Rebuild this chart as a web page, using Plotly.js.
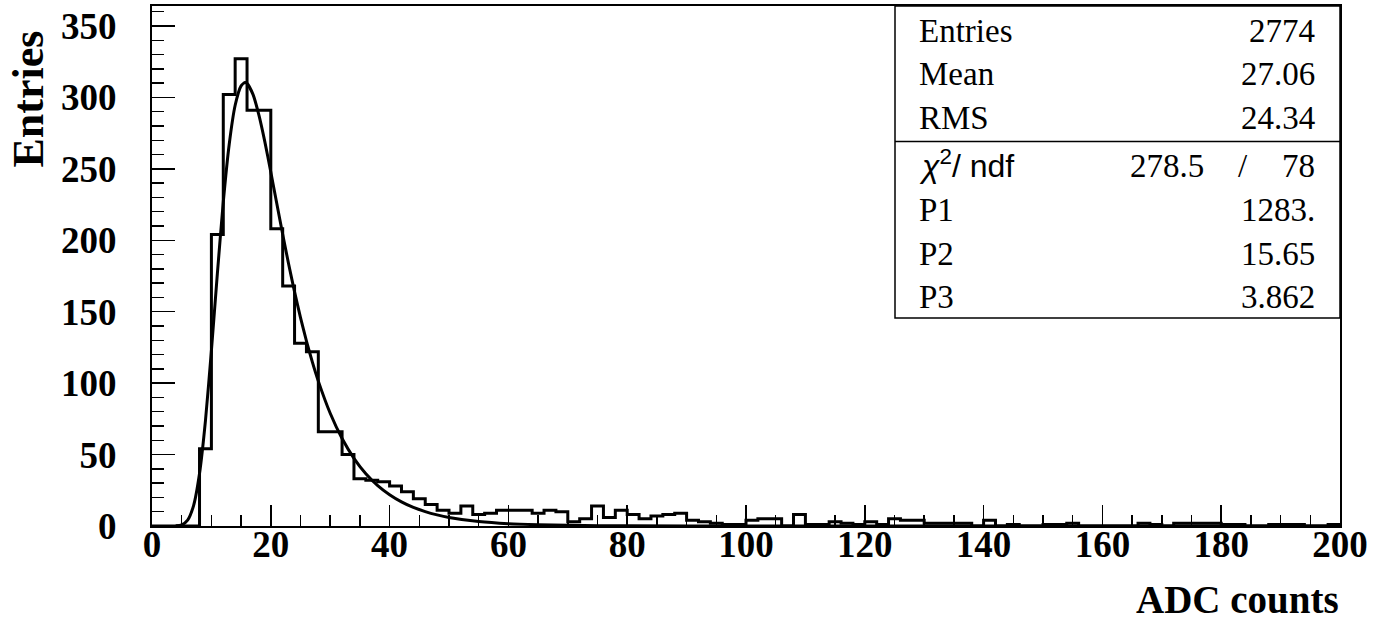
<!DOCTYPE html>
<html>
<head>
<meta charset="utf-8">
<script src="https://cdn.plot.ly/plotly-3.0.1.min.js"></script>
<style>
html,body{margin:0;padding:0;background:#fff;}
#chart{width:1382px;height:621px;}
</style>
</head>
<body>
<div id="chart"></div>
<script>
// Histogram binning (ADC counts), 100 bins of width 2 from 0 to 200
const xMin = 0;
const binWidth = 2;
const binCounts = [
  0, 0, 0, 0, 54, 204, 302, 327, 291, 291,
  208, 168, 128, 122, 66, 66, 50, 33, 32, 31,
  28, 24, 19, 15, 11, 9, 14, 8, 9, 11,
  11, 11, 9, 11, 10, 3, 5, 14, 6, 11,
  8, 5, 7, 8, 9, 4, 3, 2, 1, 1,
  4, 5, 5, 0, 8, 1, 1, 3, 2, 1,
  3, 1, 5, 4, 4, 2, 2, 2, 2, 0,
  4, 0, 1, 0, 0, 1, 1, 2, 0, 0,
  0, 0, 0, 2, 1, 0, 2, 2, 2, 2,
  1, 1, 0, 0, 1, 1, 1, 0, 0, 1
];

// Fit curve
const fitX = [4, 5, 6, 7, 8, 9, 10, 11, 12, 13, 14, 15, 15.65, 16, 17, 18, 19, 20, 21, 22, 23, 24, 25, 26, 27, 28, 30, 32, 34, 36, 38, 40, 42, 44, 46, 48, 50, 55, 60, 65, 70, 80, 100, 150, 200];
const fitY = [0.1, 0.8, 4.1, 14.3, 36.7, 73.8, 122.7, 176.5, 226.8, 267.2, 294.5, 308.1, 310.4, 309.8, 302.1, 287.6, 268.9, 247.8, 225.9, 204.2, 183.4, 163.9, 145.9, 129.5, 114.7, 101.4, 78.9, 61.2, 47.4, 36.6, 28.3, 21.9, 16.9, 13.0, 10.1, 7.8, 6.0, 3.1, 1.6, 0.9, 0.5, 0.1, 0, 0, 0];

// Statistics box
const statLabels = ["Entries", "Mean", "RMS"];
const statValues = ["2774", "27.06", "24.34"];
const chi2Value = "278.5";
const ndfValue = "78";
const parLabels = ["P1", "P2", "P3"];
const parValues = ["1283.", "15.65", "3.862"];

const xTitle = "ADC counts";
const yTitle = "Entries";

// Build step outline from bin edges
const stepX = [];
const stepY = [];
for (let i = 0; i < binCounts.length; i++) {
  stepX.push(xMin + i * binWidth);
  stepY.push(binCounts[i]);
}
stepX.push(xMin + binCounts.length * binWidth);
stepY.push(binCounts[binCounts.length - 1]);

const traces = [
  {
    x: stepX, y: stepY, type: 'scatter', mode: 'lines',
    line: {shape: 'hv', color: '#000', width: 3},
    hoverinfo: 'skip', showlegend: false
  },
  {
    x: fitX, y: fitY, type: 'scatter', mode: 'lines',
    line: {shape: 'spline', smoothing: 0.6, color: '#000', width: 3},
    hoverinfo: 'skip', showlegend: false
  }
];

const serif = 'Liberation Serif, Times New Roman, serif';
const sans = 'Liberation Sans, Arial, sans-serif';

// pixel helpers -> paper coords (plot area x:152..1340, y:6..526)
const L = 152, R = 1340, T = 6, B = 526;
const px = v => (v - L) / (R - L);
const py = v => (B - v) / (B - T);

const annotations = [];
const rowY1 = [31, 74, 117.5];
const rowY2 = [210, 253.5, 297];
const leftX = 917, rightX = 1317;
const statFont = {family: serif, size: 33, color: '#000'};
for (let i = 0; i < statLabels.length; i++) {
  annotations.push({xref:'paper', yref:'paper', x: px(leftX), y: py(rowY1[i]), xanchor:'left', yanchor:'middle', text: statLabels[i], showarrow:false, font: statFont});
  annotations.push({xref:'paper', yref:'paper', x: px(rightX), y: py(rowY1[i]), xanchor:'right', yanchor:'middle', text: statValues[i], showarrow:false, font: statFont});
}
annotations.push({xref:'paper', yref:'paper', x: px(leftX), y: py(164), xanchor:'left', yanchor:'middle', text: '<i>χ</i><sup>2</sup>/ ndf', showarrow:false, font: {family: sans, size: 32, color:'#000'}});
annotations.push({xref:'paper', yref:'paper', x: px(1206), y: py(166), xanchor:'right', yanchor:'middle', text: chi2Value, showarrow:false, font: statFont});
annotations.push({xref:'paper', yref:'paper', x: px(1243), y: py(166), xanchor:'center', yanchor:'middle', text: '/', showarrow:false, font: statFont});
annotations.push({xref:'paper', yref:'paper', x: px(rightX), y: py(166), xanchor:'right', yanchor:'middle', text: ndfValue, showarrow:false, font: statFont});
for (let i = 0; i < parLabels.length; i++) {
  annotations.push({xref:'paper', yref:'paper', x: px(leftX), y: py(rowY2[i]), xanchor:'left', yanchor:'middle', text: parLabels[i], showarrow:false, font: statFont});
  annotations.push({xref:'paper', yref:'paper', x: px(rightX), y: py(rowY2[i]), xanchor:'right', yanchor:'middle', text: parValues[i], showarrow:false, font: statFont});
}
// axis titles (ROOT style, right/top aligned)
annotations.push({xref:'paper', yref:'paper', x: px(1341), y: py(599), xanchor:'right', yanchor:'middle', text: '<b>' + xTitle + '</b>', showarrow:false, font:{family: serif, size: 39, color:'#000'}});
annotations.push({xref:'paper', yref:'paper', x: px(28), y: py(29), xanchor:'center', yanchor:'top', textangle: -90, text: '<b>' + yTitle + '</b>', showarrow:false, font:{family: serif, size: 44, color:'#000'}});

const layout = {
  width: 1382, height: 621,
  margin: {l: 152, r: 42, t: 6, b: 95, pad: 0},
  paper_bgcolor: '#fff', plot_bgcolor: '#fff',
  showlegend: false,
  xaxis: {
    range: [0, 200], showgrid: false, zeroline: false,
    showline: true, mirror: true, linecolor: '#000', linewidth: 2,
    ticks: 'inside', ticklen: 21, tickwidth: 1.5, tickcolor: '#000',
    dtick: 20, tick0: 0,
    minor: {dtick: 5, ticks: 'inside', ticklen: 11, tickwidth: 1.5, tickcolor: '#000', showgrid: false},
    tickfont: {family: serif, size: 37, color: '#000', weight: 'bold'},
    ticklabelstandoff: -15,
    fixedrange: true
  },
  yaxis: {
    range: [0, 364], showgrid: false, zeroline: false,
    showline: true, mirror: true, linecolor: '#000', linewidth: 2,
    ticks: 'inside', ticklen: 23, tickwidth: 1.5, tickcolor: '#000',
    dtick: 50, tick0: 0,
    minor: {dtick: 10, ticks: 'inside', ticklen: 12, tickwidth: 1.5, tickcolor: '#000', showgrid: false},
    tickfont: {family: serif, size: 37, color: '#000', weight: 'bold'},
    ticklabelstandoff: 26,
    fixedrange: true
  },
  shapes: [
    {type:'rect', xref:'paper', yref:'paper', x0: px(895), x1: 1, y0: py(318), y1: 1, line:{color:'#000', width:1.5}, fillcolor:'#fff', layer:'above'},
    {type:'line', xref:'paper', yref:'paper', x0: px(895), x1: 1, y0: py(141.5), y1: py(141.5), line:{color:'#000', width:1.5}, layer:'above'}
  ],
  annotations: annotations
};

Plotly.newPlot('chart', traces, layout, {displayModeBar: false, staticPlot: true});
</script>
</body>
</html>
